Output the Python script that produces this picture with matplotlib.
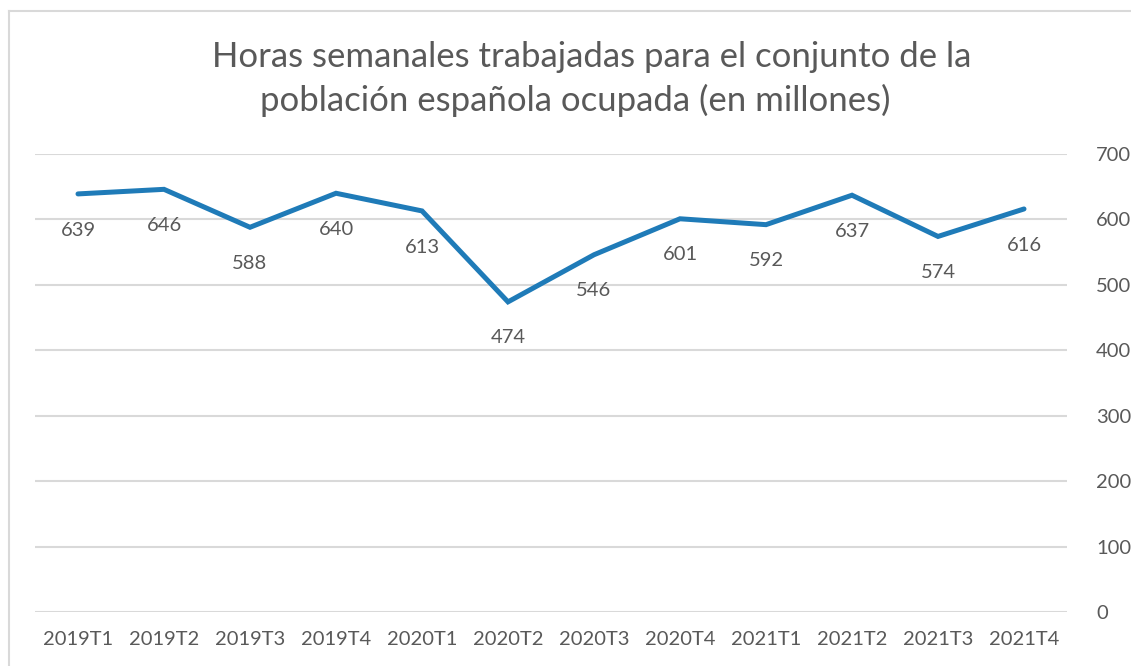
import matplotlib.pyplot as plt
from matplotlib.lines import Line2D

plt.rcParams['font.family'] = ['Lato', 'DejaVu Sans']

# data
trimestres = ['2019T1', '2019T2', '2019T3', '2019T4', '2020T1', '2020T2',
              '2020T3', '2020T4', '2021T1', '2021T2', '2021T3', '2021T4']
horas = [639, 646, 588, 640, 613, 474, 546, 601, 592, 637, 574, 616]
y_ticks = [0, 100, 200, 300, 400, 500, 600, 700]
titulo = ['Horas semanales trabajadas para el conjunto de la',
          'población española ocupada (en millones)']

text_color = '#595959'
line_color = '#1F7BB8'
grid_color = '#D9D9D9'

W, H = 1131, 666
fig = plt.figure(figsize=(W / 100, H / 100), dpi=100)
ax = fig.add_axes([35 / W, 1 - 612 / H, (1067 - 35) / W, (612 - 154) / H])

x = list(range(len(trimestres)))
ax.plot(x, horas, color=line_color, linewidth=3.6, solid_joinstyle='miter',
        solid_capstyle='round')

for xi, v in zip(x, horas):
    ax.annotate(str(v), (xi, v), xytext=(0, -26), textcoords='offset points',
                ha='center', va='center', fontsize=14.5, color=text_color)

ax.set_xlim(-0.5, len(trimestres) - 0.5)
ax.set_ylim(0, 700)
ax.set_xticks(x)
ax.set_xticklabels(trimestres, fontsize=14.5, color=text_color)
ax.set_yticks(y_ticks)
ax.yaxis.tick_right()
ax.tick_params(axis='y', length=0, pad=21, labelsize=14.5, labelcolor=text_color)
ax.tick_params(axis='x', length=0, pad=14)
for lbl in ax.get_yticklabels():
    lbl.set_horizontalalignment('left')
ax.grid(axis='y', color=grid_color, linewidth=1.5)
ax.set_axisbelow(True)
for s in ax.spines.values():
    s.set_visible(False)

# title: two lines, Excel wraps them slightly off-centre
fig.text(592 / W, 1 - 67 / H, titulo[0], ha='center', va='baseline',
         fontsize=25, color=text_color)
fig.text(575 / W, 1 - 111 / H, titulo[1], ha='center', va='baseline',
         fontsize=25, color=text_color)

# outer chart border (left and top visible)
fig.add_artist(Line2D([8.5 / W, 8.5 / W], [0, 1 - 10.5 / H], transform=fig.transFigure,
                      color=grid_color, linewidth=1.5))
fig.add_artist(Line2D([8.5 / W, 1], [1 - 10.5 / H, 1 - 10.5 / H], transform=fig.transFigure,
                      color=grid_color, linewidth=1.5))

fig.savefig('out.png', dpi=100)
